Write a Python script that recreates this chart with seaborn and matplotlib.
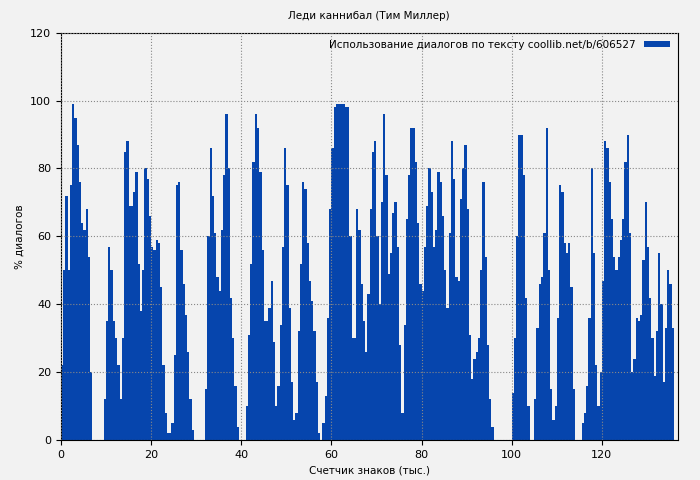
import numpy as np
import pandas as pd
import seaborn as sns
import matplotlib.pyplot as plt

# Позиции (тыс. знаков) с шагом 0.5 и доля диалогов, %
step = 0.5
dialog_pct = [
    22, 50, 72, 50, 75, 99, 95, 87, 76, 64, 62, 68, 54, 20, 0, 0, 0, 0, 0, 12,
    35, 57, 50, 35, 30, 22, 12, 30, 85, 88, 69, 69, 73, 79, 52, 38, 50, 80, 77, 66,
    57, 56, 59, 58, 45, 22, 8, 2, 2, 5, 25, 75, 76, 56, 46, 37, 26, 12, 3, 0,
    0, 0, 0, 0, 15, 60, 86, 72, 61, 48, 44, 62, 78, 96, 80, 42, 30, 16, 4, 0,
    0, 0, 10, 31, 52, 82, 96, 92, 79, 56, 35, 35, 39, 47, 29, 10, 16, 34, 57, 86,
    75, 39, 17, 6, 8, 32, 52, 76, 74, 58, 47, 41, 32, 17, 2, 0, 5, 13, 36, 68,
    86, 98, 99, 99, 99, 99, 98, 98, 60, 30, 30, 68, 62, 46, 35, 26, 43, 68, 85, 88,
    60, 40, 70, 96, 78, 49, 55, 67, 70, 57, 28, 8, 34, 65, 78, 92, 92, 82, 64, 46,
    44, 57, 69, 80, 73, 57, 62, 79, 76, 66, 50, 39, 61, 88, 77, 48, 47, 71, 80, 87,
    68, 31, 18, 24, 26, 30, 50, 76, 54, 28, 12, 4, 0, 0, 0, 0, 0, 0, 0, 0,
    14, 30, 60, 90, 90, 78, 42, 10, 0, 0, 12, 33, 46, 48, 61, 92, 50, 15, 6, 10,
    36, 75, 73, 58, 55, 58, 45, 15, 0, 0, 0, 5, 8, 16, 36, 80, 55, 22, 10, 20,
    47, 88, 86, 76, 65, 54, 50, 54, 59, 65, 82, 90, 61, 20, 24, 36, 35, 37, 53, 70,
    57, 42, 30, 19, 32, 55, 40, 17, 33, 50, 46, 33,
]
positions = np.arange(len(dialog_pct)) * step

df = pd.DataFrame({'pos': positions, 'pct': dialog_pct})

bg = '#f2f2f2'
plt.rcParams['font.family'] = ['DejaVu Sans']
fig, ax = plt.subplots(figsize=(7, 4.8), dpi=100)
fig.patch.set_facecolor(bg)
ax.set_facecolor(bg)

sns.histplot(df, x='pos', weights='pct', binwidth=step, binrange=(0, len(dialog_pct) * step),
             color='#0645ad', alpha=1, linewidth=0, ax=ax,
             label='Использование диалогов по тексту coollib.net/b/606527')

ax.set_xlim(0, 136.8)
ax.set_ylim(0, 120)
ax.set_xticks(range(0, 121, 20))
ax.set_yticks(range(0, 121, 20))
ax.grid(True, linestyle=':', color='#888888', linewidth=0.8)
ax.set_axisbelow(False)
ax.tick_params(labelsize=8)
ax.set_title('Леди каннибал (Тим Миллер)', fontsize=7.5, pad=10)
ax.set_xlabel('Счетчик знаков (тыс.)', fontsize=7.5)
ax.set_ylabel('% диалогов', fontsize=7.5)
ax.legend(loc='upper right', frameon=False, fontsize=7.5, markerfirst=False,
          handlelength=2.5, handleheight=0.5, borderaxespad=0.3)

plt.subplots_adjust(left=0.087, right=0.968, top=0.932, bottom=0.083)
plt.savefig('out.png', facecolor=bg)
